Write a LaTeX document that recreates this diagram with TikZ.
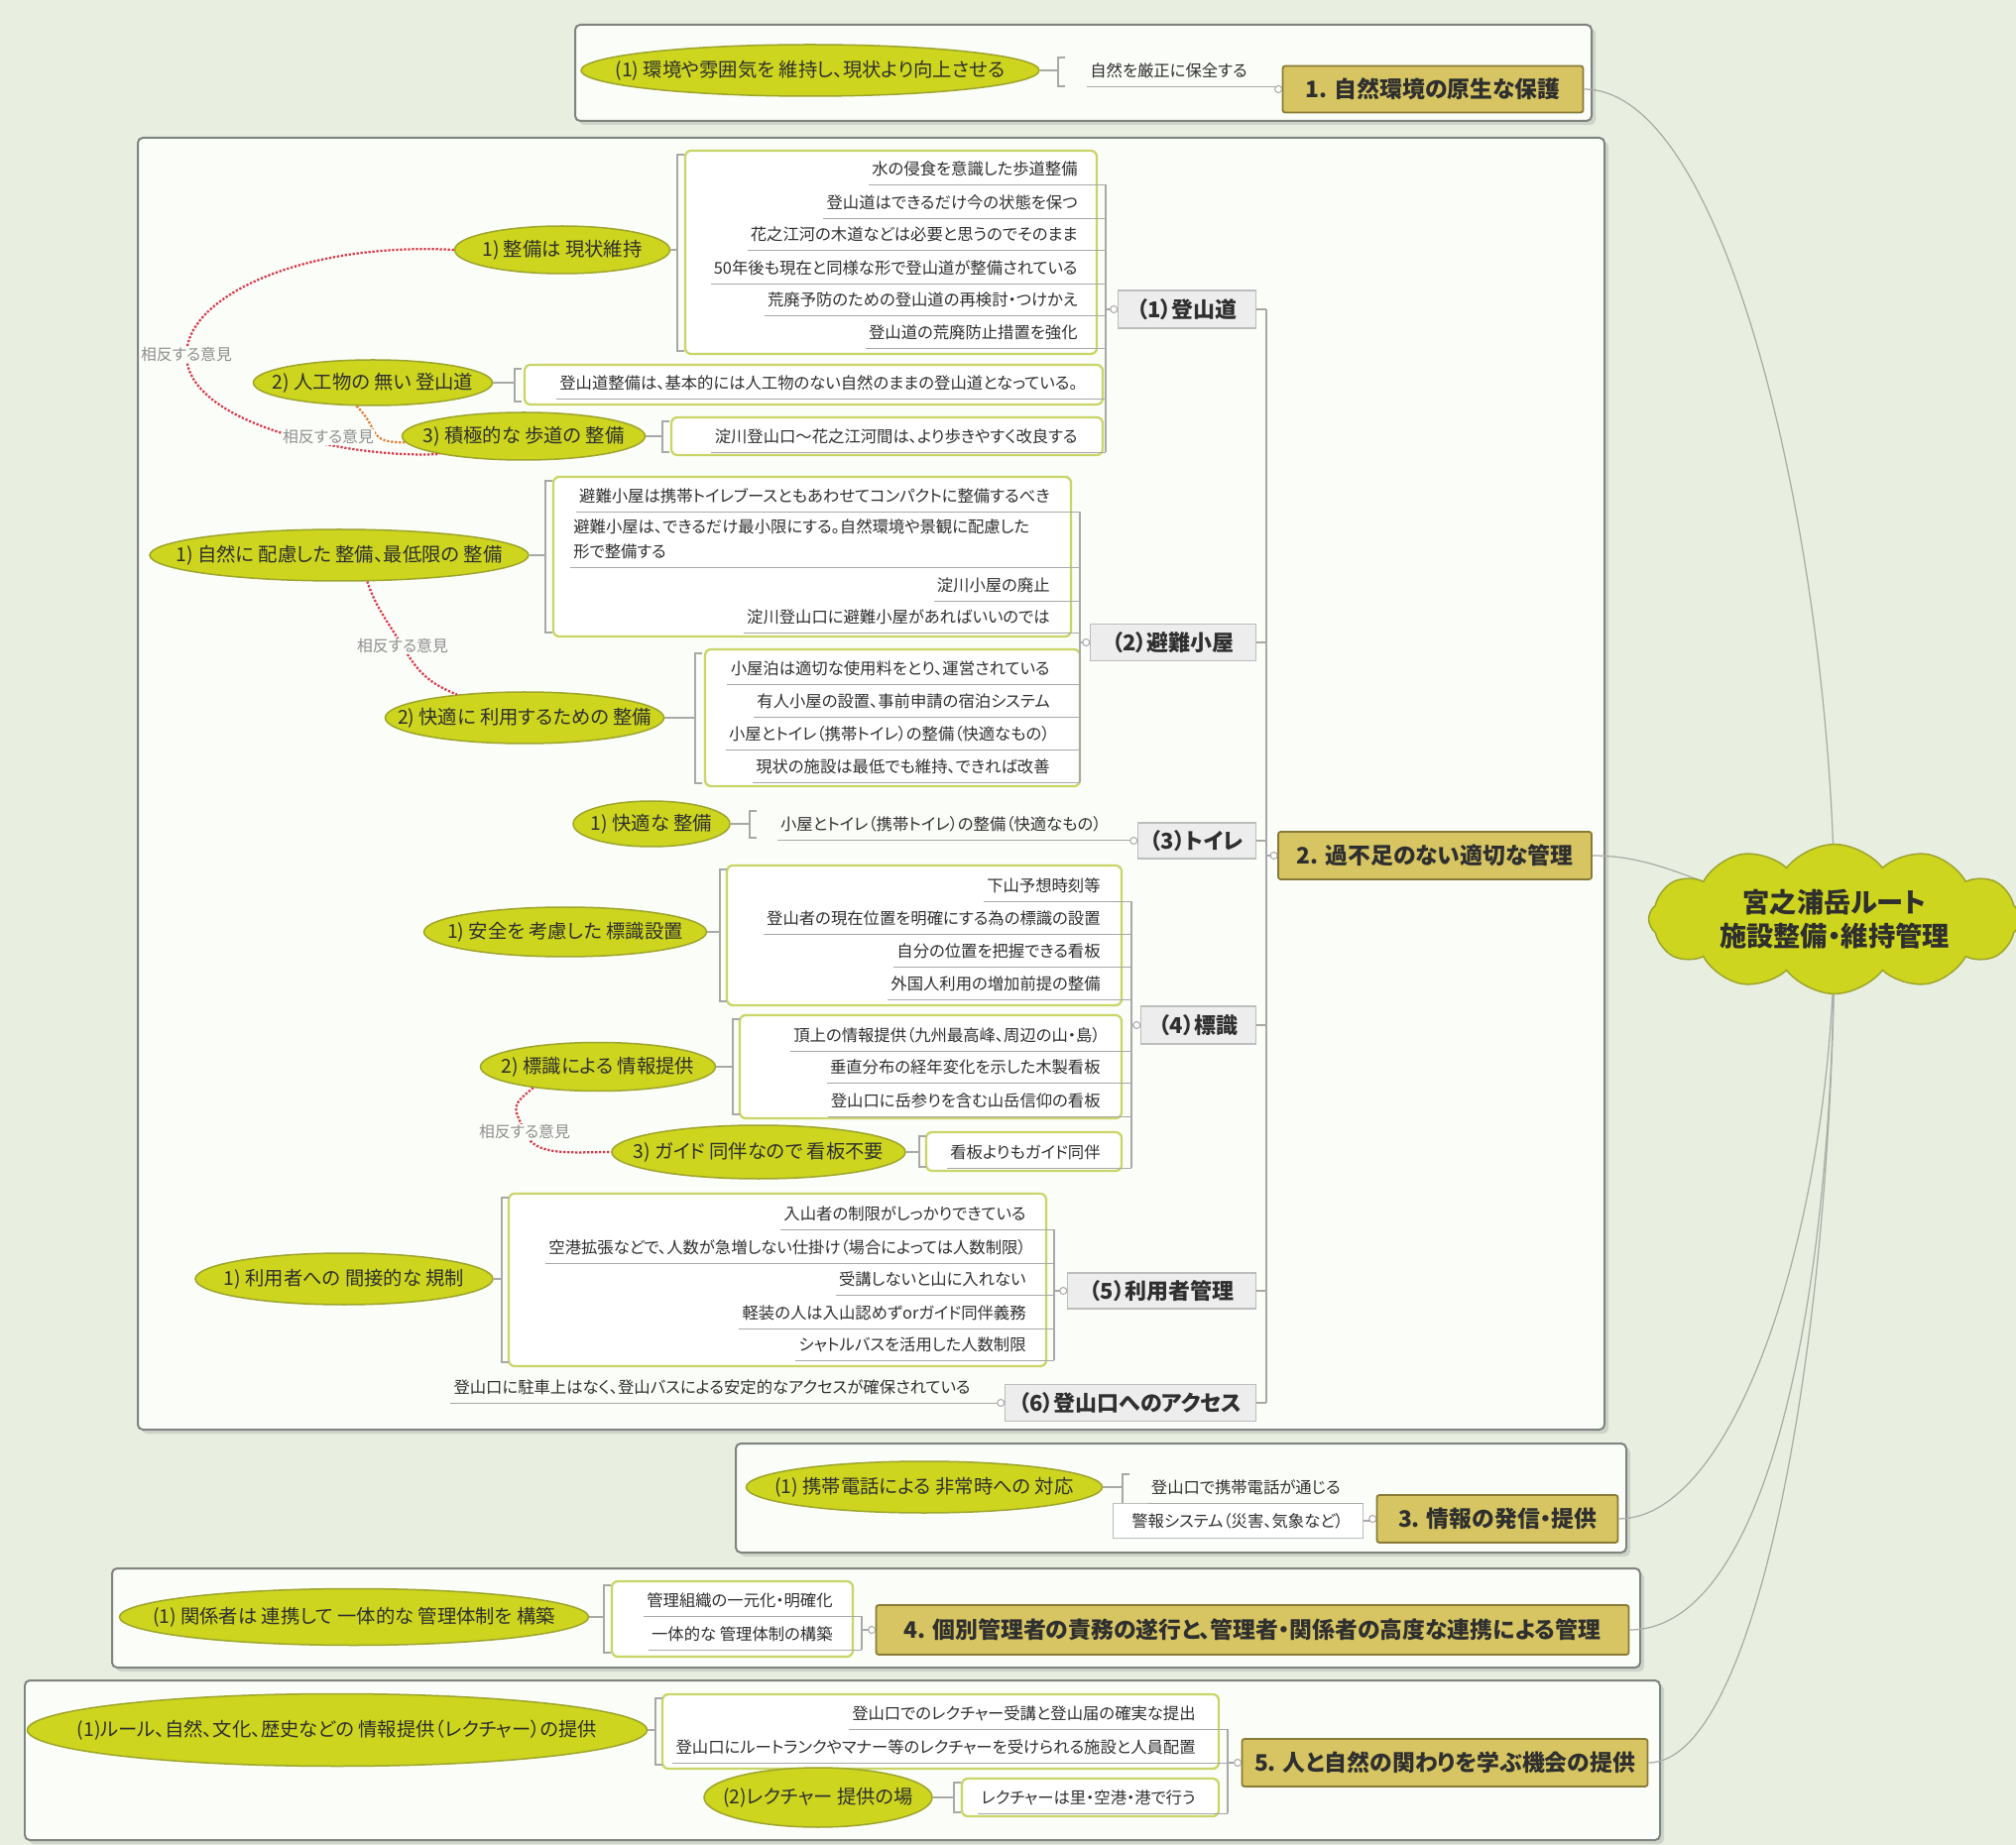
\documentclass[tikz,border=0pt]{standalone}
\usepackage{fontspec}
\setmainfont{Noto Sans CJK JP}[RawFeature=+palt]
\usetikzlibrary{shapes.geometric,shapes.symbols}

\definecolor{bgc}{HTML}{E8EFE1}
\definecolor{panelc}{HTML}{FBFDF8}
\definecolor{paneldraw}{HTML}{7E847E}
\definecolor{shadowc}{HTML}{CDD3C8}
\definecolor{ellfill}{HTML}{CDD51E}
\definecolor{elldraw}{HTML}{9DA52C}
\definecolor{topfill}{HTML}{D6C562}
\definecolor{topdraw}{HTML}{877B36}
\definecolor{subfill}{HTML}{EDEDED}
\definecolor{subdraw}{HTML}{BDBDBD}
\definecolor{bndc}{HTML}{C9D566}
\definecolor{linec}{HTML}{A8A8A8}
\definecolor{branchc}{HTML}{A9ADA6}
\definecolor{relc}{HTML}{D8394B}
\definecolor{relc2}{HTML}{E0803A}
\definecolor{lblc}{HTML}{8F8F8F}
\definecolor{inkc}{HTML}{2F2F2F}

\newcommand{\zw}[1]{\hbox to 0pt{\hss#1\hss}}

\tikzset{
  wh/.style 2 args={minimum width=#1*0.02cm, minimum height=#2*0.02cm},
  panel/.style={draw=paneldraw, line width=0.04cm, fill=panelc, rounded corners=0.1cm},
  bound/.style={draw=bndc, line width=0.045cm, fill=white, rounded corners=0.12cm},
  topic/.style={draw=topdraw, line width=0.035cm, fill=topfill, rounded corners=0.05cm, inner sep=0pt, text=inkc, font=\fontsize{13}{16}\selectfont\bfseries},
  subt/.style={anchor=east, draw=subdraw, line width=0.025cm, fill=subfill, inner sep=0pt, text=inkc, font=\fontsize{12.5}{14}\selectfont\bfseries},
  idea/.style={ellipse, draw=elldraw, line width=0.03cm, fill=ellfill, inner sep=0pt, text=inkc, font=\fontsize{11}{13}\selectfont},
  leaf/.style={anchor=east, inner xsep=0.06cm, inner ysep=0pt, minimum height=0.64cm, text=inkc, font=\fontsize{9.3}{11}\selectfont},
  hubcloud/.style={cloud, cloud puffs=12, cloud puff arc=105, aspect=2.9, draw=elldraw, line width=0.03cm, fill=ellfill, align=center, inner sep=0pt, text=inkc, font=\fontsize{15.5}{19}\selectfont\bfseries, minimum width=7.5cm, minimum height=2.4cm},
  brk/.style={draw=linec, line width=0.025cm},
  uline/.style={draw=linec, line width=0.025cm},
  link/.style={draw=linec, line width=0.025cm},
  branch/.style={draw=branchc, line width=0.025cm},
  contra/.style={draw=relc, line width=0.045cm, densely dotted},
  contratext/.style={text=lblc, fill=panelc, inner sep=0.02cm, font=\fontsize{9}{10}\selectfont},
  knob/.style={draw=linec, fill=white, line width=0.02cm}
}

\begin{document}
\begin{tikzpicture}[x=0.02cm, y=-0.02cm]
% background and panels
\fill[bgc] (0,0) rectangle (2033,1861);
\useasboundingbox (0,0) rectangle (2033,1861);
\foreach \xa/\ya/\xb/\yb in {580/25/1605/122, 139/139/1618/1442, 742/1456/1640/1566, 113/1582/1654/1682, 25/1695/1674/1856}{
  \fill[shadowc, rounded corners=0.1cm] (\xa+4,\ya+4) rectangle (\xb+4,\yb+4);
  \draw[panel] (\xa,\ya) rectangle (\xb,\yb);
}
% boundaries round the leaves
\foreach \xa/\ya/\xb/\yb in {691/152/1106/357, 529/368/1112/408, 677/421/1112/459, 558/481/1080/642, 711/655/1089/793, 733/873/1131/1014, 746/1024/1131/1128, 934/1142/1131/1181, 513/1204/1055/1378, 617/1595/860/1671, 668/1709/1229/1784, 970/1794/1229/1832}
  \draw[bound] (\xa,\ya) rectangle (\xb,\yb);

% main topics
\coordinate (hubc) at (1850,927);
\node[topic, wh={303}{47}] (t1) at (1445,90) {1. 自然環境の原生な保護};
\node[topic, wh={316}{48}] (t2) at (1447,863) {2. 過不足のない適切な管理};
\node[topic, wh={243}{48}] (t3) at (1510,1532) {3. 情報の発信・提供};
\node[topic, wh={759}{50}] (t4) at (1263,1644) {4. 個別管理者の責務の遂行と、管理者・関係者の高度な連携による管理};
\node[topic, wh={409}{48}] (t5) at (1457,1778) {5. 人と自然の関わりを学ぶ機会の提供};

% sub topics of 2.
\node[subt, wh={139}{38}] (s1) at (1267,312) {（1）登山道};
\node[subt, wh={167}{37}] (s2) at (1267,648) {（2）避難小屋};
\node[subt, wh={119}{36}] (s3) at (1267,848) {（3）トイレ};
\node[subt, wh={116}{38}] (s4) at (1267,1034) {（4）標識};
\node[subt, wh={190}{36}] (s5) at (1267,1302) {（5）利用者管理};
\node[subt, wh={253}{37}] (s6) at (1267,1415) {（6）登山口へのアクセス};

% branches to the centre
\draw[branch] (t1.east) .. controls +(150,0) and +(0,-350) .. (hubc);
\draw[branch] (t2.east) .. controls +(80,0) and +(-120,-20) .. (hubc);
\draw[branch] (t3.east) .. controls +(120,0) and +(0,300) .. (hubc);
\draw[branch] (t4.east) .. controls +(140,0) and +(0,380) .. (hubc);
\draw[branch] (t5.east) .. controls +(110,0) and +(0,420) .. (hubc);
\node[hubcloud] (hub) at (hubc) {宮之浦岳ルート\\施設整備・維持管理};

\coordinate (k0) at (1277,863);
\draw[link] (t2) -- (k0);
\draw[link] (s1.east -| k0) -- (s6.east -| k0);
\foreach \s in {s1,s2,s3,s4,s5,s6} \draw[link] (\s.east) -- (\s.east -| k0);

% ideas
\node[idea, wh={462}{52}] (e0) at (817,71) {\zw{(1) 環境や雰囲気を 維持し、現状より向上させる}};
\node[idea, wh={217}{48}] (e11) at (567,252) {\zw{1) 整備は 現状維持}};
\node[idea, wh={241}{46}] (e12) at (376,386) {\zw{2) 人工物の 無い 登山道}};
\node[idea, wh={245}{48}] (e13) at (528,440) {\zw{3) 積極的な 歩道の 整備}};
\node[idea, wh={382}{52}] (e21) at (342,560) {\zw{1) 自然に 配慮した 整備、最低限の 整備}};
\node[idea, wh={281}{52}] (e22) at (529,724) {\zw{2) 快適に 利用するための 整備}};
\node[idea, wh={158}{46}] (e31) at (657,831) {\zw{1) 快適な 整備}};
\node[idea, wh={285}{50}] (e41) at (570,940) {\zw{1) 安全を 考慮した 標識設置}};
\node[idea, wh={237}{49}] (e42) at (603,1076) {\zw{2) 標識による 情報提供}};
\node[idea, wh={296}{54}] (e43) at (765,1162) {\zw{3) ガイド 同伴なので 看板不要}};
\node[idea, wh={300}{52}] (e51) at (347,1290) {\zw{1) 利用者への 間接的な 規制}};
\node[idea, wh={359}{52}] (e3) at (932,1500) {\zw{(1) 携帯電話による 非常時への 対応}};
\node[idea, wh={473}{57}] (e4) at (357,1631) {\zw{(1) 関係者は 連携して 一体的な 管理体制を 構築}};
\node[idea, wh={625}{73}] (e5a) at (340,1745) {\zw{(1)ルール、自然、文化、歴史などの 情報提供（レクチャー）の提供}};
\node[idea, wh={230}{60}] (e5b) at (825,1813) {\zw{(2)レクチャー 提供の場}};

% brackets
\foreach \e/\x/\ya/\yb/\ym in {e0/1067/58/87/71, e11/683/156/354/252, e12/519/372/405/386, e13/668/425/456/440, e21/550/485/638/560, e22/701/659/790/724, e31/756/818/845/831, e41/726/877/1010/940, e42/739/1028/1124/1076, e43/927/1146/1177/1162, e51/506/1208/1374/1290, e3/1132/1487/1517/1500, e4/609/1599/1667/1631, e5a/661/1713/1780/1745, e5b/962/1798/1828/1813}{
  \draw[brk] (\x+7,\ya) -- (\x,\ya) -- (\x,\yb) -- (\x+7,\yb);
  \coordinate (k\e) at (\x,\ym);
  \draw[brk] (\e) -- (k\e);
}

% (1) leaves
\coordinate (k1) at (1115,312);
\foreach \i/\y/\txt in {1/170/水の侵食を意識した歩道整備, 2/204/登山道はできるだけ今の状態を保つ, 3/236/花之江河の木道などは必要と思うのでそのまま, 4/270/50年後も現在と同様な形で登山道が整備されている, 5/302/荒廃予防のための登山道の再検討・つけかえ, 6/335/登山道の荒廃防止措置を強化, 7/386/登山道整備は、基本的には人工物のない自然のままの登山道となっている。, 8/440/淀川登山口〜花之江河間は、より歩きやすく改良する}{
  \node[leaf] (p\i) at (1090,\y) {\txt};
  \draw[uline] (p\i.south west) -- (p\i.south west -| k1);
}
\draw[link] (p1.south -| k1) -- (p8.south -| k1);
\draw[link] (s1) -- (k1);

% (2) leaves
\coordinate (k2) at (1089,648);
\foreach \i/\y/\txt in {1/500/避難小屋は携帯トイレブースともあわせてコンパクトに整備するべき, 3/590/淀川小屋の廃止, 4/622/淀川登山口に避難小屋があればいいのでは, 5/674/小屋泊は適切な使用料をとり、運営されている, 6/707/有人小屋の設置、事前申請の宿泊システム, 7/740/小屋とトイレ（携帯トイレ）の整備（快適なもの）, 8/773/現状の施設は最低でも維持、できれば改善}{
  \node[leaf] (r\i) at (1062,\y) {\txt};
  \draw[uline] (r\i.south west) -- (r\i.south west -| k2);
}
\node[leaf, anchor=west, align=left, inner ysep=0.16cm, font=\fontsize{9.3}{14}\selectfont] (r2) at (575,544) {避難小屋は、できるだけ最小限にする。自然環境や景観に配慮した\\形で整備する};
\draw[uline] (r2.south west) -- (r2.south west -| k2);
\draw[link] (r1.south -| k2) -- (r8.south -| k2);
\draw[link] (s2) -- (k2);

% (3) leaf
\node[leaf] (w1) at (1114,831) {小屋とトイレ（携帯トイレ）の整備（快適なもの）};
\draw[uline] (w1.south west) -- (w1.south west -| s3.west);

% (4) leaves
\coordinate (k4) at (1141,1034);
\foreach \i/\y/\txt in {1/893/下山予想時刻等, 2/926/登山者の現在位置を明確にする為の標識の設置, 3/959/自分の位置を把握できる看板, 4/992/外国人利用の増加前提の整備, 5/1044/頂上の情報提供（九州最高峰、周辺の山・島）, 6/1076/垂直分布の経年変化を示した木製看板, 7/1110/登山口に岳参りを含む山岳信仰の看板, 8/1162/看板よりもガイド同伴}{
  \node[leaf] (g\i) at (1113,\y) {\txt};
  \draw[uline] (g\i.south west) -- (g\i.south west -| k4);
}
\draw[link] (g1.south -| k4) -- (g8.south -| k4);
\draw[link] (s4) -- (k4);

% (5) leaves
\coordinate (k5) at (1063,1302);
\foreach \i/\y/\txt in {1/1224/入山者の制限がしっかりできている, 2/1258/空港拡張などで、人数が急増しない仕掛け（場合によっては人数制限）, 3/1290/受講しないと山に入れない, 4/1324/軽装の人は入山認めずorガイド同伴義務, 5/1356/シャトルバスを活用した人数制限}{
  \node[leaf] (h\i) at (1038,\y) {\txt};
  \draw[uline] (h\i.south west) -- (h\i.south west -| k5);
}
\draw[link] (h1.south -| k5) -- (h5.south -| k5);
\draw[link] (s5) -- (k5);

% (6) leaf
\node[leaf] (a1) at (982,1399) {登山口に駐車上はなく、登山バスによる安定的なアクセスが確保されている};
\draw[uline] (a1.south west) -- (a1.south west -| s6.west);

% leaves of 1. 3. 4. 5.
\node[leaf] (n1) at (1261,71) {自然を厳正に保全する};
\draw[uline] (n1.south west) -- (n1.south west -| t1.west);

\node[leaf] (m1) at (1355,1500) {登山口で携帯電話が通じる};
\node[leaf, anchor=center, draw=subdraw, line width=0.02cm, fill=white, wh={252}{35}] (m2) at (1248,1534) {警報システム（災害、気象など）};
\draw[uline] (m1.south west) -- (m1.south west -| m2.east);
\draw[link] (m2.east) -- (m2.east -| t3.west);

\coordinate (k6) at (869,1644);
\node[leaf] (u1) at (843,1614) {管理組織の一元化・明確化};
\node[leaf] (u2) at (843,1648) {一体的な 管理体制の構築};
\foreach \n in {u1,u2} \draw[uline] (\n.south west) -- (\n.south west -| k6);
\draw[link] (u1.south -| k6) -- (u2.south -| k6);
\draw[link] (t4) -- (k6);

\coordinate (k7) at (1238,1778);
\node[leaf] (v1) at (1209,1728) {登山口でのレクチャー受講と登山届の確実な提出};
\node[leaf] (v2) at (1209,1762) {登山口にルートランクやマナー等のレクチャーを受けられる施設と人員配置};
\node[leaf] (v3) at (1209,1813) {レクチャーは里・空港・港で行う};
\foreach \n in {v1,v2,v3} \draw[uline] (\n.south west) -- (\n.south west -| k7);
\draw[link] (v1.south -| k7) -- (v3.south -| k7);
\draw[link] (t5) -- (k7);

% contrary opinions
\coordinate (c1) at (188,358);
\coordinate (c3) at (406,652);
\coordinate (c4) at (529,1142);
\draw[contra] (e11.west) .. controls +(-150,-8) and +(0,-60) .. (c1) .. controls +(0,70) and +(-90,5) .. (e13.192);
\draw[contra, draw=relc2] (e12.235) .. controls +(25,25) and +(-40,0) .. (e13.183);
\draw[contra] (e21.-43) .. controls +(8,25) and +(-15,-25) .. (c3) .. controls +(15,25) and +(-30,-12) .. (e22.161);
\draw[contra] (e42.198) .. controls +(-25,20) and +(-10,-25) .. (c4) .. controls +(10,25) and +(-40,0) .. (e43.west);
\node[contratext] (o1) at (c1) {相反する意見};
\node[contratext] (o2) at (331,441) {相反する意見};
\node[contratext] (o3) at (c3) {相反する意見};
\node[contratext] (o4) at (c4) {相反する意見};

% knobs
\foreach \n in {t1,t2,t3,t4,t5,s1,s2,s3,s4,s5,s6}
  \draw[knob] ([xshift=-0.07cm]\n.west) circle[radius=0.07cm];
\end{tikzpicture}
\end{document}
